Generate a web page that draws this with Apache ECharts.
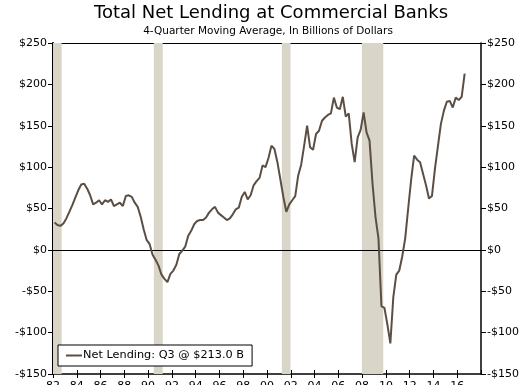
<!DOCTYPE html>
<html>
<head>
<meta charset="utf-8">
<script src="https://cdn.jsdelivr.net/npm/echarts@6/dist/echarts.min.js"></script>
<style>
  html, body { margin: 0; padding: 0; background: #fff; }
  #chart { width: 523px; height: 385px; }
</style>
</head>
<body>
<div id="chart"></div>
<script>
// Quarterly series, 4-quarter moving average of net lending ($ billions), 1982 Q1 .. 2016 Q3
const startYear = 1982;
const netLending = [
  33, 30, 29, 32,      // 1982
  38, 46, 54, 63,      // 1983
  72, 79, 80, 74,      // 1984
  66, 55, 57, 60,      // 1985
  55, 60, 58, 61,      // 1986
  53, 55, 57, 53,      // 1987
  65, 66, 64, 57,      // 1988
  52, 40, 25, 12,      // 1989
  7, -6, -12, -19,     // 1990
  -30, -35, -39, -29,  // 1991
  -25, -18, -5, -1,    // 1992
  4, 17, 23, 31,       // 1993
  35, 36, 36, 39,      // 1994
  45, 49, 52, 45,      // 1995
  42, 39, 36, 38,      // 1996
  43, 49, 51, 64,      // 1997
  70, 61, 66, 78,      // 1998
  83, 87, 102, 100,    // 1999
  111, 126, 122, 106,  // 2000
  85, 64, 46, 55,      // 2001
  60, 65, 90, 103,     // 2002
  126, 150, 124, 121,  // 2003
  140, 144, 156, 160,  // 2004
  163, 165, 184, 172,  // 2005
  170, 185, 161, 165,  // 2006
  128, 106, 136, 145,  // 2007
  166, 142, 132, 80,   // 2008
  40, 14, -68, -70,    // 2009
  -90, -113, -57, -30, // 2010
  -25, -8, 14, 50,     // 2011
  85, 114, 109, 106,   // 2012
  92, 78, 62, 65,      // 2013
  98, 125, 152, 168,   // 2014
  179, 180, 172, 184,  // 2015
  181, 185, 213.0      // 2016
];

// NBER recession spans, in fractional years
const recessions = [
  [1982.0, 1982.73],
  [1990.48, 1991.23],
  [2001.25, 2001.98],
  [2007.98, 2009.78]
];

const yTicks = { min: -150, max: 250, step: 50 };
const xTicks = { min: 1982, max: 2018, step: 2 };

const FONT = 'DejaVu Sans';
const LINE_COLOR = '#5b4f45';
const BAND_COLOR = '#d9d5c9';

// place each quarter at its midpoint
const points = netLending.map((v, i) => [startYear + (i + 0.5) / 4, v]);
const last = netLending[netLending.length - 1];
const seriesName = 'Net Lending: Q3 @ $' + last.toFixed(1) + ' B';

const money = v => (v < 0 ? '-$' + Math.abs(v) : '$' + v);
const yy = v => String(((v % 100) + 100) % 100).padStart(2, '0');

const chart = echarts.init(document.getElementById('chart'), null, { renderer: 'canvas' });

const baseY = {
  type: 'value',
  min: yTicks.min, max: yTicks.max, interval: yTicks.step,
  splitLine: { show: false },
  axisTick: { show: true, length: 5, lineStyle: { color: '#000', width: 1 } },
  axisLabel: { formatter: money, color: '#000', fontSize: 11, fontFamily: FONT, margin: 6 }
};

chart.setOption({
  animation: false,
  backgroundColor: '#fff',
  title: [
    {
      text: 'Total Net Lending at Commercial Banks',
      left: 271, top: 4, textAlign: 'center', padding: 0,
      textStyle: { fontFamily: FONT, fontSize: 18, fontWeight: 'normal', color: '#000' }
    },
    {
      text: '4-Quarter Moving Average, In Billions of Dollars',
      left: 268, top: 26, textAlign: 'center', padding: 0,
      textStyle: { fontFamily: FONT, fontSize: 10.5, fontWeight: 'normal', color: '#000' }
    }
  ],
  grid: { left: 53, right: 42, top: 43, bottom: 11, containLabel: false, outerBoundsMode: 'none' },
  legend: {
    left: 58, top: 345,
    orient: 'horizontal',
    backgroundColor: '#fff',
    borderColor: '#000', borderWidth: 1,
    padding: [5, 8, 5, 8],
    itemWidth: 16, itemHeight: 2, itemGap: 4,
    icon: 'rect',
    textStyle: { fontFamily: FONT, fontSize: 11.3, color: '#000', padding: [0, 0, 0, -4] },
    data: [seriesName]
  },
  xAxis: [
    {
      type: 'value', position: 'bottom',
      min: xTicks.min, max: xTicks.max, interval: xTicks.step,
      splitLine: { show: false },
      axisLine: { show: true, onZero: false, lineStyle: { color: '#000', width: 1.5 } },
      axisTick: { show: true, length: 4, lineStyle: { color: '#000', width: 1 } },
      axisLabel: { formatter: yy, showMaxLabel: false, color: '#000', fontSize: 11, fontFamily: FONT, margin: 7 }
    },
    {
      type: 'value', position: 'bottom',
      min: xTicks.min, max: xTicks.max, interval: xTicks.step,
      splitLine: { show: false },
      axisLine: { show: false, onZero: false },
      axisTick: { show: true, inside: true, length: 4, lineStyle: { color: '#000', width: 1 } },
      axisLabel: { show: false }
    },
    {
      type: 'value', position: 'top',
      min: xTicks.min, max: xTicks.max,
      splitLine: { show: false },
      axisLine: { show: true, onZero: false, lineStyle: { color: '#000', width: 1 } },
      axisTick: { show: false },
      axisLabel: { show: false }
    }
  ],
  yAxis: [
    Object.assign({}, baseY, {
      position: 'left',
      axisLine: { show: true, onZero: false, lineStyle: { color: '#000', width: 2 } }
    }),
    Object.assign({}, baseY, {
      position: 'right',
      axisLine: { show: true, onZero: false, lineStyle: { color: '#000', width: 1.5 } }
    })
  ],
  series: [
    {
      name: seriesName,
      type: 'line',
      xAxisIndex: 0, yAxisIndex: 0,
      data: points,
      symbol: 'none',
      showSymbol: false,
      clip: true,
      z: 5,
      lineStyle: { color: LINE_COLOR, width: 2 },
      itemStyle: { color: LINE_COLOR },
      markArea: {
        silent: true,
        z: 1,
        itemStyle: { color: BAND_COLOR },
        data: recessions.map(r => [
          { xAxis: r[0], yAxis: yTicks.min },
          { xAxis: r[1], yAxis: yTicks.max }
        ])
      },
      markLine: {
        silent: true,
        symbol: 'none',
        label: { show: false },
        lineStyle: { color: '#000', width: 1, type: 'solid' },
        data: [{ yAxis: 0 }]
      }
    }
  ]
});
</script>
</body>
</html>
